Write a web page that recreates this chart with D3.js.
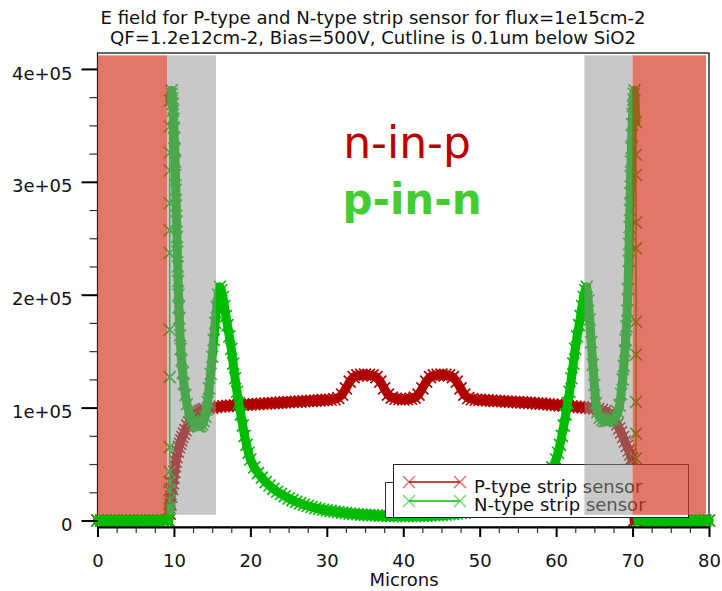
<!DOCTYPE html>
<html lang="en">

<head>
    <meta charset="UTF-8">
    <title>E field strip sensor</title>
    <script src="https://cdn.jsdelivr.net/npm/d3@7"></script>
    <style>
        body { margin: 0; background: #fff; }
        text { font-family: "DejaVu Sans", sans-serif; }
    </style>
</head>

<body>
    <div id="svg"></div>

    <script>
        // N-type strip sensor (green), cutline position in microns and E field
        const nMicrons = [0, 0.5, 1, 1.5, 2, 2.5, 3, 3.5, 4, 4.5, 5, 5.5, 6, 6.5, 7, 7.5, 8, 8.5, 9, 9.3,
            9.45, 9.45, 9.45, 9.45, 9.45, 9.45, 9.45, 9.45, 9.45, 9.45, 9.45, 9.45, 9.45, 9.45, 9.45,
            9.7, 9.75, 9.8, 9.85, 9.9, 9.95, 10, 10.05, 10.1, 10.15, 10.2, 10.25, 10.3, 10.35, 10.4, 10.45, 10.5, 10.55, 10.6, 10.65, 10.7,
            10.8, 10.9, 11, 11.15, 11.3, 11.5, 11.7, 11.95, 12.2, 12.45, 12.7, 12.95, 13.2, 13.45, 13.7, 13.9, 14.1, 14.25, 14.4, 14.6, 14.8,
            15, 15.2, 15.4, 15.6, 15.8, 16, 16.2, 16.4, 16.6, 16.8, 17, 17.25, 17.5, 17.75, 18, 18.25, 18.5, 18.75, 19, 19.25, 19.5, 19.75,
            20, 20.5, 21, 21.5, 22, 22.5, 23, 23.5, 24, 24.5, 25, 25.5, 26, 26.5, 27, 27.5, 28, 28.5, 29, 29.5,
            30, 30.5, 31, 31.5, 32, 32.5, 33, 33.5, 34, 34.5, 35, 35.5, 36, 36.5, 37, 37.5, 38, 38.5, 39, 39.5,
            40, 40.5, 41, 41.5, 42, 42.5, 43, 43.5, 44, 44.5, 45, 45.5, 46, 46.5, 47, 47.5, 48, 48.5, 49, 49.5,
            50, 50.5, 51, 51.5, 52, 52.5, 53, 53.5, 54, 54.5, 55, 55.5, 56, 56.5, 57, 57.5, 58, 58.5, 59, 59.5,
            60, 60.25, 60.5, 60.75, 61, 61.25, 61.5, 61.75, 62, 62.25, 62.5, 62.75, 63, 63.2, 63.4, 63.6, 63.8,
            64, 64.2, 64.4, 64.6, 64.8, 65, 65.2, 65.4, 65.7, 66, 66.3, 66.6, 66.9, 67.2, 67.5, 67.8, 68.1, 68.3, 68.5, 68.7, 68.85,
            69, 69.1, 69.2, 69.3, 69.4, 69.5, 69.55, 69.6, 69.65, 69.7, 69.75, 69.8, 69.85, 69.9, 69.95, 70, 70.05, 70.1, 70.15, 70.25,
            70.45, 70.45, 70.45, 70.45, 70.45, 70.45, 70.45, 70.45, 70.45, 70.45, 70.45, 70.45,
            70.7, 71, 71.5, 72, 72.5, 73, 73.5, 74, 74.5, 75, 75.5, 76, 76.5, 77, 77.5, 78, 78.5, 79, 79.5, 80];
        const nField = [0, 0, 0, 0, 0, 0, 0, 0, 0, 0, 0, 0, 0, 0, 0, 0, 0, 0, 0, 0,
            11000, 18000, 27000, 34000, 43000, 65000, 127000, 169000, 237000, 257000, 281000, 310000, 326000, 349000, 372000,
            381000, 378000, 374000, 369000, 363000, 356000, 348000, 339000, 329000, 318000, 306000, 293000, 279000, 265000, 251000, 238000, 225000, 212000, 200000, 189000, 179000,
            164000, 152000, 142000, 131000, 121000, 111000, 103000, 96000, 91000, 88000, 85500, 84000, 83000, 83500, 85000, 88000, 92000, 98000, 105000, 117000, 130000,
            145000, 160000, 175000, 189000, 200000, 207000, 204000, 198000, 190000, 181000, 173000, 163000, 152000, 139000, 126000, 114000, 104000, 94000, 84000, 75000, 67000, 60000,
            54000, 47000, 42000, 38000, 34000, 31000, 28000, 25500, 23500, 21500, 19500, 18000, 16500, 15200, 14000, 13000, 12000, 11000, 10200, 9500,
            9000, 8500, 8000, 7500, 7000, 6600, 6200, 5800, 5500, 5200, 5000, 4800, 4600, 4400, 4300, 4200, 4100, 4000, 4000, 4000,
            4000, 4000, 4000, 4000, 4100, 4200, 4300, 4400, 4600, 4800, 5000, 5200, 5500, 5800, 6200, 6600, 7000, 7500, 8000, 8500,
            9000, 9500, 10200, 11000, 12000, 13000, 14000, 15200, 16500, 18000, 19500, 21500, 23500, 25500, 28000, 31000, 34000, 38000, 42000, 47000,
            54000, 60000, 67000, 75000, 84000, 94000, 104000, 114000, 126000, 139000, 152000, 163000, 173000, 181000, 190000, 198000, 204000,
            207000, 195000, 178000, 158000, 138000, 120000, 104000, 96000, 91000, 89000, 88000, 88000, 88000, 89000, 90000, 92000, 96000, 102000, 112000, 125000, 137000,
            150000, 160000, 172000, 186000, 205000, 230000, 245000, 260000, 275000, 290000, 305000, 318000, 330000, 341000, 351000, 360000, 367000, 373000, 378000, 381000,
            353000, 324000, 306000, 264000, 241000, 176000, 147000, 105000, 77000, 55000, 30000, 12000,
            0, 0, 0, 0, 0, 0, 0, 0, 0, 0, 0, 0, 0, 0, 0, 0, 0, 0, 0, 0];

        // P-type strip sensor (dark red)
        const pMicrons = [0, 0.5, 1, 1.5, 2, 2.5, 3, 3.5, 4, 4.5, 5, 5.5, 6, 6.5, 7, 7.5, 8, 8.5, 9, 9.3,
            9.45, 9.55, 9.65, 9.75, 9.85, 9.95, 10.05, 10.15, 10.25, 10.35, 10.5, 10.65, 10.8, 10.95, 11.1, 11.3, 11.5, 11.75,
            12, 12.25, 12.5, 12.75, 13, 13.25, 13.5, 13.75, 14, 14.5, 15, 15.5, 16, 16.5, 17, 17.5, 18, 18.5, 19, 19.5,
            20, 20.5, 21, 21.5, 22, 22.5, 23, 23.5, 24, 24.5, 25, 25.5, 26, 26.5, 27, 27.5, 28, 28.5, 29, 29.5,
            30, 30.5, 31, 31.5, 32, 32.5, 33, 33.5, 34, 34.5, 35, 35.5, 36, 36.5, 37, 37.5, 38, 38.5, 39, 39.5,
            40, 40.5, 41, 41.5, 42, 42.5, 43, 43.5, 44, 44.5, 45, 45.5, 46, 46.5, 47, 47.5, 48, 48.5, 49, 49.5,
            50, 50.5, 51, 51.5, 52, 52.5, 53, 53.5, 54, 54.5, 55, 55.5, 56, 56.5, 57, 57.5, 58, 58.5, 59, 59.5,
            60, 60.5, 61, 61.5, 62, 62.5, 63, 63.5, 64, 64.5, 65, 65.5, 66, 66.5, 67, 67.5, 68, 68.25, 68.5, 68.75,
            69, 69.25, 69.5, 69.7, 69.9, 70, 70.05, 70.1, 70.2, 70.5, 71, 71.5, 72, 72.5, 73, 73.5, 74, 74.5, 75,
            75.5, 76, 76.5, 77, 77.5, 78, 78.5, 79, 79.5, 80];
        const pField = [0, 0, 0, 0, 0, 0, 0, 0, 0, 0, 0, 0, 0, 0, 0, 0, 0, 0, 0, 0,
            6000, 14000, 21000, 28000, 33000, 38000, 43000, 48000, 52000, 56000, 61000, 65000, 68000, 71000, 74000, 77000, 80000, 84000,
            87000, 90000, 92000, 94000, 95500, 96500, 97200, 98000, 98600, 99400, 100000, 100500, 101000, 101200, 101500, 101800, 102000, 102200, 102400, 102600,
            102800, 103000, 103200, 103400, 103600, 103800, 104000, 104200, 104400, 104600, 104800, 105000, 105200, 105400, 105600, 105800, 106000, 106200, 106400, 106600,
            106800, 107000, 107400, 108500, 111500, 117000, 123000, 127000, 128500, 129000, 129200, 129000, 128500, 127000, 123000, 117000, 111500, 108800, 107800, 107400,
            107300, 107400, 107800, 108800, 111500, 117000, 123000, 127000, 128500, 129000, 129200, 129000, 128500, 127000, 123000, 117000, 111500, 108500, 107400, 107000,
            106800, 106600, 106400, 106200, 106000, 105800, 105600, 105400, 105200, 105000, 104800, 104600, 104400, 104200, 104000, 103800, 103500, 103200, 102900, 102600,
            102300, 102000, 101700, 101400, 101100, 100800, 100500, 100200, 100000, 99700, 99300, 98800, 98000, 97000, 95000, 91000, 85000, 81500, 78000, 74000,
            70000, 66000, 62000, 58500, 55000, 42000, 28000, 15000, 0, 0, 0, 0, 0, 0, 0, 0, 0, 0, 0,
            0, 0, 0, 0, 0, 0, 0, 0, 0, 0];

        // shaded strip regions (microns)
        const shadeFrom = [0, 9.1, 63.7, 70.0];
        const shadeTo = [9.1, 15.5, 70.0, 79.6];
        const shadeKind = ["metal", "oxide", "oxide", "metal"];

        // axis ticks
        const xTicks = [0, 10, 20, 30, 40, 50, 60, 70, 80];
        const yTicks = [0, 100000, 200000, 300000, 400000];
        const yTickLabels = ["0", "1e+05", "2e+05", "3e+05", "4e+05"];

        const titleLines = ["E field for P-type and N-type strip sensor for flux=1e15cm-2",
            "QF=1.2e12cm-2, Bias=500V, Cutline is 0.1um below SiO2"];
        const seriesNames = ["P-type strip sensor", "N-type strip sensor"];

        const width = 722;
        const height = 591;
        const svg = d3.select("#svg").append("svg").attr("width", width).attr("height", height)

        const plot = { left: 97.5, right: 709, top: 53, bottom: 527 }
        const x = d3.scaleLinear().domain([0, 80]).range([plot.left, plot.right])
        const y = d3.scaleLinear().domain([-5760, 414100]).range([plot.bottom, plot.top])

        // title
        svg.selectAll(".title").data(titleLines).enter().append("text")
            .attr("x", 373).attr("y", (d, i) => 24 + i * 20)
            .attr("text-anchor", "middle").attr("font-size", 18).attr("fill", "#111")
            .attr("textLength", (d, i) => i == 0 ? 545 : 526).attr("lengthAdjust", "spacingAndGlyphs")
            .text(d => d)

        // frame
        svg.append("rect").attr("x", plot.left).attr("y", plot.top)
            .attr("width", plot.right - plot.left).attr("height", plot.bottom - plot.top)
            .attr("fill", "none").attr("stroke", "#000").attr("stroke-width", 1.2)

        // series: the simulation points are so dense they make a solid band,
        // drawn here as a wide stroke under the markers (not along the vertical jumps)
        const series = [
            { xs: pMicrons, ys: pField, color: "#b00000" },
            { xs: nMicrons, ys: nField, color: "#00bc00" }
        ]
        const cross = "M-6,-6L6,6M-6,6L6,-6"
        const line = d3.line().x(d => x(d[0])).y(d => y(d[1]))
        series.forEach(s => {
            const pts = s.xs.map((v, i) => [v, s.ys[i]])
            const runs = []
            let run = [pts[0]]
            for (let i = 1; i < pts.length; i++) {
                if (pts[i][0] == pts[i - 1][0]) {
                    if (run.length > 1) runs.push(run)
                    run = [pts[i]]
                } else run.push(pts[i])
            }
            if (run.length > 1) runs.push(run)

            const g = svg.append("g")
            g.selectAll("path.band").data(runs).enter().append("path").attr("class", "band")
                .attr("d", line)
                .attr("fill", "none").attr("stroke", s.color).attr("stroke-width", 9)
                .attr("stroke-linejoin", "round").attr("stroke-linecap", "round")
            g.append("path").datum(pts)
                .attr("d", line)
                .attr("fill", "none").attr("stroke", s.color).attr("stroke-width", 1.5)
            g.selectAll("path.m").data(pts).enter().append("path").attr("class", "m")
                .attr("d", cross)
                .attr("transform", d => `translate(${x(d[0])},${y(d[1])})`)
                .attr("stroke", s.color).attr("stroke-width", 1.6).attr("fill", "none")
        })

        // legend (an older box sits behind it)
        svg.append("rect").attr("x", 385.5).attr("y", 482.5).attr("width", 290).attr("height", 35)
            .attr("fill", "#fff").attr("stroke", "#333")
        svg.append("rect").attr("x", 393.5).attr("y", 464.5).attr("width", 295).attr("height", 53)
            .attr("fill", "#fff").attr("stroke", "#222")
        const legColors = ["#c80000", "#00c000"]
        seriesNames.forEach((name, i) => {
            const ly = 482 + i * 19
            svg.append("line").attr("x1", 409).attr("x2", 460).attr("y1", ly).attr("y2", ly)
                .attr("stroke", legColors[i]).attr("stroke-width", 1.5)
            svg.selectAll(null).data([409, 460]).enter().append("path")
                .attr("d", "M-6,-6L6,6M-6,6L6,-6")
                .attr("transform", d => `translate(${d},${ly})`)
                .attr("stroke", legColors[i]).attr("stroke-opacity", 0.55).attr("stroke-width", 1.5)
            svg.append("text").attr("x", 474).attr("y", 493 + i * 17.7)
                .attr("font-size", 18).attr("fill", "#111").text(name)
        })

        // shaded regions, translucent, on top of everything in the plot
        svg.selectAll("rect.shade").data(shadeFrom).enter().append("rect").attr("class", "shade")
            .attr("x", d => x(d))
            .attr("width", (d, i) => x(shadeTo[i]) - x(d))
            .attr("y", y(412000))
            .attr("height", y(5000) - y(412000))
            .attr("fill", (d, i) => shadeKind[i] == "metal" ? "rgb(213,60,40)" : "rgb(148,148,148)")
            .attr("fill-opacity", (d, i) => shadeKind[i] == "metal" ? 0.7 : 0.51)

        // axes
        const yAxis = svg.append("g").attr("transform", `translate(${plot.left},0)`)
            .call(d3.axisLeft(y).tickValues(yTicks).tickFormat((d, i) => yTickLabels[i]).tickSize(16).tickPadding(9).tickSizeOuter(0))
        yAxis.select(".domain").remove()
        yAxis.selectAll("line").attr("stroke-width", 2)
        yAxis.selectAll("text").attr("font-size", 18).attr("font-family", "DejaVu Sans").attr("fill", "#111").attr("dy", "0.56em")

        const yMinor = d3.range(25000, 414000, 25000).filter(v => v % 100000 != 0)
        const yAxisMinor = svg.append("g").attr("transform", `translate(${plot.left},0)`)
            .call(d3.axisLeft(y).tickValues(yMinor).tickFormat("").tickSize(8).tickSizeOuter(0))
        yAxisMinor.select(".domain").remove()
        yAxisMinor.selectAll("line").attr("stroke", "#333").attr("stroke-width", 1.2)

        const xAxis = svg.append("g").attr("transform", `translate(0,${plot.bottom})`)
            .call(d3.axisBottom(x).tickValues(xTicks).tickSize(10).tickPadding(17).tickSizeOuter(0))
        xAxis.select(".domain").attr("stroke-width", 2)
        xAxis.selectAll("line").attr("stroke-width", 2)
        xAxis.selectAll("text").attr("font-size", 18).attr("font-family", "DejaVu Sans").attr("fill", "#111")

        const xMinor = d3.range(2.5, 80, 2.5).filter(v => v % 10 != 0)
        const xAxisMinor = svg.append("g").attr("transform", `translate(0,${plot.bottom})`)
            .call(d3.axisBottom(x).tickValues(xMinor).tickFormat("").tickSize(6).tickSizeOuter(0))
        xAxisMinor.select(".domain").remove()
        xAxisMinor.selectAll("line").attr("stroke", "#333").attr("stroke-width", 1.2)

        svg.append("text").attr("x", 404).attr("y", 586).attr("text-anchor", "middle")
            .attr("font-size", 18).attr("fill", "#111").text("Microns")

        // big labels
        svg.append("text").attr("x", 407).attr("y", 158).attr("text-anchor", "middle")
            .attr("font-size", 44).attr("fill", "#bb0000").text("n-in-p")
        svg.append("text").attr("x", 412).attr("y", 214).attr("text-anchor", "middle")
            .attr("font-size", 42).attr("font-weight", "bold").attr("fill", "#44cc33").text("p-in-n")
    </script>
</body>

</html>
